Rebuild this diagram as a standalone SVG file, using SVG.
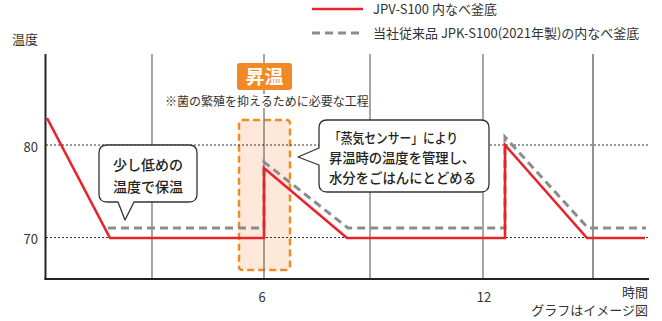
<svg xmlns="http://www.w3.org/2000/svg" width="662" height="321" viewBox="0 0 662 321">
<style>
text{font-family:"Noto Sans CJK JP","Noto Sans",sans-serif;fill:#333}
.lbl{font-size:13px}
.grid{stroke:#6a6a6a;stroke-width:1.2}
.dot{stroke:#333;stroke-width:1;stroke-dasharray:2 2}
.red{fill:none;stroke:#e8242a;stroke-width:2.6;stroke-linejoin:miter}
.gray{fill:none;stroke:#8c8c8c;stroke-width:3;stroke-dasharray:8 5}
.bubble{fill:#fff;stroke:#333;stroke-width:1.3;stroke-linejoin:round}
.btxt{font-size:14px;font-weight:500;fill:#222}
</style>
<rect width="662" height="321" fill="#fff"/>
<g id="legend">
<line x1="312" y1="9" x2="363" y2="9" stroke="#e8242a" stroke-width="2.6"/>
<text class="lbl" x="373" y="14">JPV-S100 内なべ釜底</text>
<line x1="312" y1="33" x2="363" y2="33" class="gray"/>
<text class="lbl" x="373" y="38">当社従来品 JPK-S100(2021年製)の内なべ釜底</text>
</g>
<g id="orange-zone">
<rect x="239" y="120" width="51" height="150" rx="3" fill="#fde8da" stroke="#f18a25" stroke-width="2.5" stroke-dasharray="7 4"/>
</g>
<g id="grid">
<line class="grid" x1="152" y1="54" x2="152" y2="279"/>
<line class="grid" x1="264" y1="54" x2="264" y2="279"/>
<line class="grid" x1="370" y1="54" x2="370" y2="279"/>
<line class="grid" x1="483" y1="54" x2="483" y2="279"/>
<line x1="593" y1="54" x2="593" y2="279" stroke="#222" stroke-width="1"/>
<line class="dot" x1="46" y1="145" x2="650" y2="145"/>
<line class="dot" x1="46" y1="237.5" x2="650" y2="237.5"/>
<line x1="45.5" y1="54" x2="45.5" y2="280" stroke="#222" stroke-width="2"/>
<line x1="44.5" y1="279" x2="649" y2="279" stroke="#222" stroke-width="2"/>
</g>
<g id="axis-labels">
<text class="lbl" x="12" y="44">温度</text>
<text class="lbl" x="38" y="152" text-anchor="end">80</text>
<text class="lbl" x="38" y="244" text-anchor="end">70</text>
<text class="lbl" x="262" y="302" text-anchor="middle">6</text>
<text class="lbl" x="484" y="302" text-anchor="middle">12</text>
<text class="lbl" x="648" y="297" text-anchor="end">時間</text>
<text class="lbl" x="648" y="315" text-anchor="end">グラフはイメージ図</text>
</g>
<g id="connectors">
<polyline class="gray" points="108,228 264,228 264,162 348,228 505,228 505,137 588,228 646,228"/>
<polyline class="red" points="47,118 110,238 264,238 264,168 347,238 505,238 505,145 587,238 645,238"/>
</g>
<g id="shoon-label">
<rect x="237" y="63" width="55" height="27" rx="3" fill="#f18a25"/>
<text x="264.5" y="84" text-anchor="middle" style="font-size:19px;font-weight:700;fill:#fff">昇温</text>
<rect x="163" y="94" width="205" height="14" fill="#fff"/>
<text x="165" y="106" style="font-size:12px">※菌の繁殖を抑えるために必要な工程</text>
</g>
<g id="callout-keep-warm">
<path class="bubble" d="M107,145 H189 Q197,145 197,153 V194 Q197,202 189,202 H134 L125,220 L118,202 H107 Q99,202 99,194 V153 Q99,145 107,145 Z"/>
<text class="btxt" x="148" y="170" text-anchor="middle">少し低めの</text>
<text class="btxt" x="148" y="192" text-anchor="middle">温度で保温</text>
</g>
<g id="callout-sensor">
<path class="bubble" d="M327,120 H481 Q489,120 489,128 V184 Q489,192 481,192 H327 Q319,192 319,184 V165 L298,157 L319,148 V128 Q319,120 327,120 Z"/>
<text class="btxt" x="329" y="143" textLength="129" lengthAdjust="spacingAndGlyphs">「蒸気センサー」により</text>
<text class="btxt" x="329" y="163" textLength="146" lengthAdjust="spacingAndGlyphs">昇温時の温度を管理し、</text>
<text class="btxt" x="329" y="183" textLength="147" lengthAdjust="spacingAndGlyphs">水分をごはんにとどめる</text>
</g>
</svg>
